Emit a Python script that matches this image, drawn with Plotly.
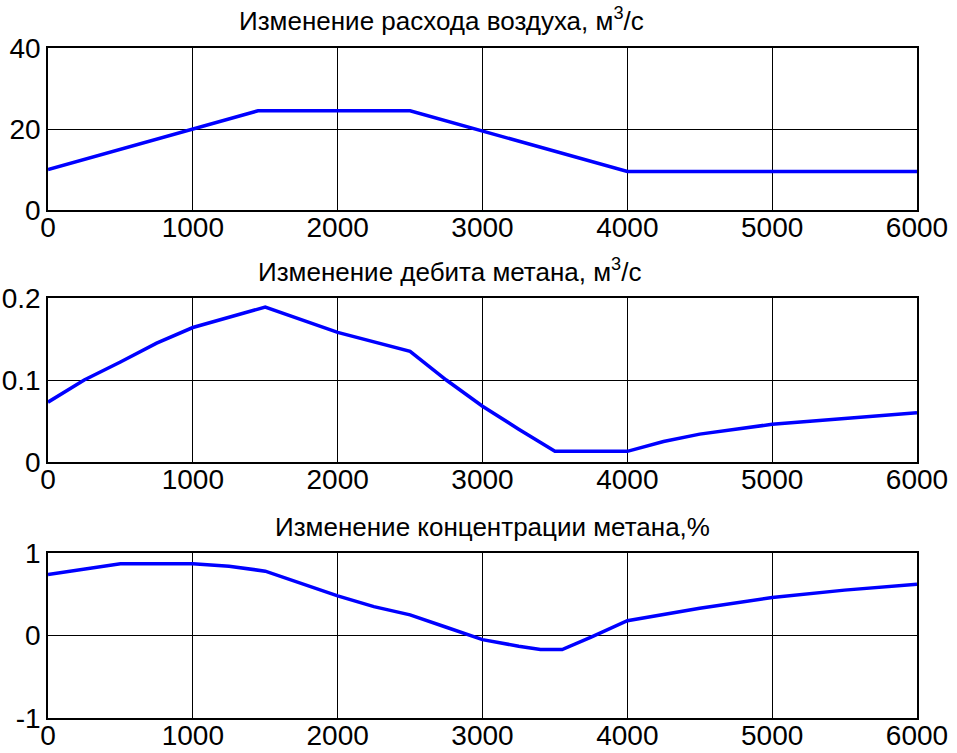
import plotly.graph_objects as go

# Plot 1: air flow, m3/s
x_air = [0, 1450, 2500, 4000, 6000]
y_air = [10, 24.5, 24.5, 9.5, 9.5]

# Plot 2: methane flow, m3/s
x_met = [0, 250, 500, 750, 1000, 1250, 1500, 2000, 2500, 2750, 3000, 3250, 3500, 4000, 4250, 4500, 5000, 5500, 6000]
y_met = [0.073, 0.1, 0.122, 0.145, 0.164, 0.177, 0.189, 0.158, 0.135, 0.1, 0.068, 0.04, 0.013, 0.013, 0.025, 0.034, 0.046, 0.053, 0.06]

# Plot 3: methane concentration, %
x_conc = [0, 250, 500, 1000, 1250, 1500, 1750, 2000, 2250, 2500, 2750, 3000, 3250, 3400, 3550, 3750, 4000, 4500, 5000, 5500, 6000]
y_conc = [0.74, 0.81, 0.87, 0.87, 0.84, 0.78, 0.63, 0.48, 0.35, 0.25, 0.1, -0.05, -0.13, -0.17, -0.17, -0.02, 0.18, 0.33, 0.46, 0.55, 0.62]

titles = ["Изменение расхода воздуха, м<sup>3</sup>/с",
          "Изменение дебита метана, м<sup>3</sup>/с",
          "Изменение концентрации метана,%"]
x_ticks = [0, 1000, 2000, 3000, 4000, 5000, 6000]
y_ticks = [[0, 20, 40], [0, 0.1, 0.2], [-1, 0, 1]]
y_ticktext = [["0", "20", "40"], ["0", "0.1", "0.2"], ["-1", "0", "1"]]
y_ranges = [[0, 40], [0, 0.2], [-1, 1]]

W, H = 957, 753
def py(px):
    return 1 - px / H

domains = [[py(210), py(48)], [py(462), py(298)], [py(718), py(553)]]
title_pos = [(441, 20), (449, 270), (492, 527)]

fig = go.Figure()
series = [(x_air, y_air), (x_met, y_met), (x_conc, y_conc)]
font_fam = "Liberation Sans, Arial, sans-serif"
for i, (xs, ys) in enumerate(series):
    n = "" if i == 0 else str(i + 1)
    fig.add_trace(go.Scatter(x=xs, y=ys, mode="lines",
                             line=dict(color="#0000ff", width=3.5),
                             xaxis="x" + n, yaxis="y" + n, showlegend=False))
    fig.layout["xaxis" + n] = dict(domain=[0, 1], range=[0, 6000], tickvals=x_ticks,
                                   showgrid=True, gridcolor="black", gridwidth=1,
                                   showline=True, linecolor="black", linewidth=1.5, mirror=True,
                                   zeroline=False, anchor="y" + n, ticks="", automargin=False,
                                   ticklabelstandoff=-8,
                                   tickfont=dict(family=font_fam, size=28, color="black"))
    fig.layout["yaxis" + n] = dict(domain=domains[i], range=y_ranges[i], tickvals=y_ticks[i],
                                   ticktext=y_ticktext[i],
                                   showgrid=True, gridcolor="black", gridwidth=1,
                                   showline=True, linecolor="black", linewidth=1.5, mirror=True,
                                   zeroline=False, anchor="x" + n, ticks="", automargin=False,
                                   tickfont=dict(family=font_fam, size=28, color="black"))
    cx, cy = title_pos[i]
    fig.add_annotation(text=titles[i], x=(cx - 48) / (917 - 48), y=py(cy),
                       xref="paper", yref="paper", showarrow=False,
                       xanchor="center", yanchor="middle",
                       font=dict(family=font_fam, size=26, color="black"))

fig.update_layout(width=W, height=H, margin=dict(l=48, r=W - 917, t=0, b=0, autoexpand=False),
                  paper_bgcolor="white", plot_bgcolor="white")
fig.write_html("out.html", config={"displayModeBar": False},
               post_script="document.body.style.margin='0';")
